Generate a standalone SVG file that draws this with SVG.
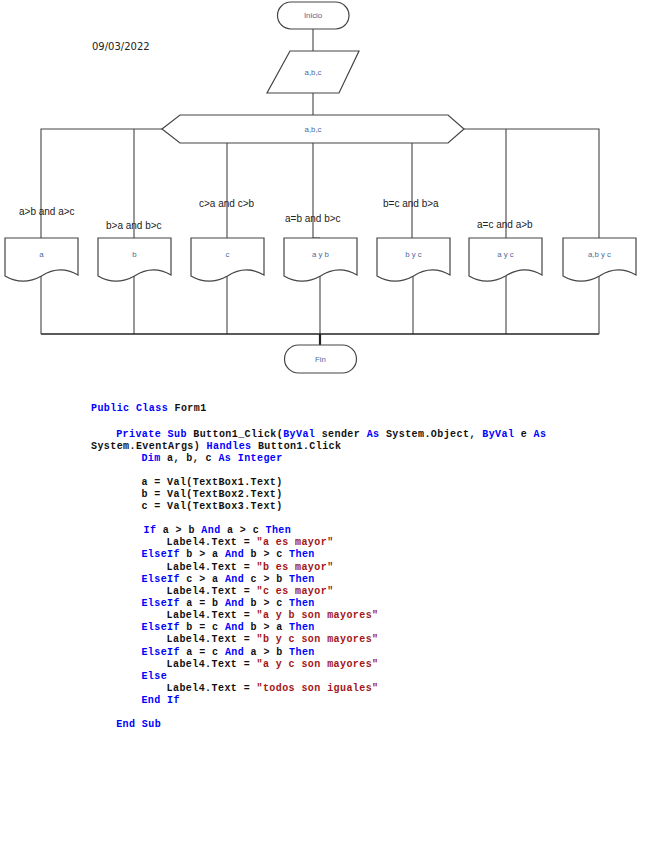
<svg xmlns="http://www.w3.org/2000/svg" width="655" height="848" viewBox="0 0 655 848">
<style>
.shape{fill:#fff;stroke:#444;stroke-width:1.2}
.conn{fill:none;stroke:#444;stroke-width:1.1}
.nl{font-family:"Liberation Sans",Arial,sans-serif;font-size:7.8px;fill:#4a6a9c;text-anchor:middle}
.cl{font-family:"Liberation Sans",Arial,sans-serif;font-size:10px;fill:#222}
.date{font-family:"DejaVu Sans",sans-serif;font-size:10px;fill:#222}
.code{font-family:"Liberation Mono","Courier New",monospace;font-size:10px;font-weight:bold;letter-spacing:0.42px;fill:#111}
.k{fill:#0000ff}
.s{fill:#a31515}
</style>
<rect width="655" height="848" fill="#fff"/>
<text class="date" x="92" y="49.5">09/03/2022</text>
<g id="connectors">
<path class="conn" d="M313,29 V51"/>
<path class="conn" d="M313,93 V115"/>
<path class="conn" d="M162,129 H41 V238"/>
<path class="conn" d="M134,129 V238"/>
<path class="conn" d="M227,143 V238"/>
<path class="conn" d="M313,143 V238 H320"/>
<path class="conn" d="M412,143 V238"/>
<path class="conn" d="M464,129 H599 V238"/>
<path class="conn" d="M506,129 V238"/>
<path class="conn" d="M41,276 V334"/>
<path class="conn" d="M134,276 V334"/>
<path class="conn" d="M227,276 V334"/>
<path class="conn" d="M320,276 V334"/>
<path class="conn" d="M413,276 V334"/>
<path class="conn" d="M506,276 V334"/>
<path class="conn" d="M599,276 V334"/>
<path class="conn" d="M41,334 H599" style="stroke:#222;stroke-width:1.5"/>
<path class="conn" d="M320,334 V345" style="stroke:#222;stroke-width:2.2"/>
</g>
<g id="inicio"><rect class="shape" x="277.5" y="2" width="71.5" height="27" rx="13.5"/><text class="nl" x="313" y="18">Inicio</text></g>
<g id="entrada"><polygon class="shape" points="290,51 359,51 339,93 267,93"/><text class="nl" x="313" y="75">a,b,c</text></g>
<g id="decision"><polygon class="shape" points="162,129 180,115 448,115 464,129 448,143 180,143"/><text class="nl" x="313" y="132">a,b,c</text></g>
<g id="lbl1"><text class="cl" x="19" y="214.5">a&gt;b and a&gt;c</text></g>
<g id="lbl2"><text class="cl" x="106" y="228.5">b&gt;a and b&gt;c</text></g>
<g id="lbl3"><text class="cl" x="199" y="207">c&gt;a and c&gt;b</text></g>
<g id="lbl4"><text class="cl" x="285" y="221.5">a=b and b&gt;c</text></g>
<g id="lbl5"><text class="cl" x="383" y="207">b=c and b&gt;a</text></g>
<g id="lbl6"><text class="cl" x="477" y="228">a=c and a&gt;b</text></g>
<g id="doc-a"><path class="shape" d="M5,238 H78 V275 C66,268 54,268 41.5,276 C29,283 17,283 5,276 Z"/><text class="nl" x="41.5" y="257">a</text></g>
<g id="doc-b"><path class="shape" d="M98,238 H171 V275 C159,268 147,268 134.5,276 C122,283 110,283 98,276 Z"/><text class="nl" x="134.5" y="257">b</text></g>
<g id="doc-c"><path class="shape" d="M191,238 H264 V275 C252,268 240,268 227.5,276 C215,283 203,283 191,276 Z"/><text class="nl" x="227.5" y="257">c</text></g>
<g id="doc-ayb"><path class="shape" d="M284,238 H357 V275 C345,268 333,268 320.5,276 C308,283 296,283 284,276 Z"/><text class="nl" x="320.5" y="257">a y b</text></g>
<g id="doc-byc"><path class="shape" d="M377,238 H450 V275 C438,268 426,268 413.5,276 C401,283 389,283 377,276 Z"/><text class="nl" x="413.5" y="257">b y c</text></g>
<g id="doc-ayc"><path class="shape" d="M469,238 H542 V275 C530,268 518,268 505.5,276 C493,283 481,283 469,276 Z"/><text class="nl" x="505.5" y="257">a y c</text></g>
<g id="doc-abyc"><path class="shape" d="M563,238 H636 V275 C624,268 612,268 599.5,276 C587,283 575,283 563,276 Z"/><text class="nl" x="599.5" y="257">a,b y c</text></g>
<g id="fin"><rect class="shape" x="284.5" y="345" width="72" height="28" rx="14"/><text class="nl" x="320.5" y="362">Fin</text></g>
<g id="code">
<text class="code" x="91" y="411"><tspan class="k">Public Class</tspan> Form1</text>
<text class="code" x="116.2" y="436.5"><tspan class="k">Private Sub</tspan> Button1_Click(<tspan class="k">ByVal</tspan> sender <tspan class="k">As</tspan> System.Object, <tspan class="k">ByVal</tspan> e <tspan class="k">As</tspan></text>
<text class="code" x="91" y="448.5">System.EventArgs) <tspan class="k">Handles</tspan> Button1.Click</text>
<text class="code" x="141.4" y="460.5"><tspan class="k">Dim</tspan> a, b, c <tspan class="k">As Integer</tspan></text>
<text class="code" x="141.4" y="485">a = Val(TextBox1.Text)</text>
<text class="code" x="141.4" y="497">b = Val(TextBox2.Text)</text>
<text class="code" x="141.4" y="509">c = Val(TextBox3.Text)</text>
<text class="code" x="143.5" y="533"><tspan class="k">If</tspan> a &gt; b <tspan class="k">And</tspan> a &gt; c <tspan class="k">Then</tspan></text>
<text class="code" x="166.6" y="545">Label4.Text = <tspan class="s">"a es mayor"</tspan></text>
<text class="code" x="141.4" y="557"><tspan class="k">ElseIf</tspan> b &gt; a <tspan class="k">And</tspan> b &gt; c <tspan class="k">Then</tspan></text>
<text class="code" x="166.6" y="569.5">Label4.Text = <tspan class="s">"b es mayor"</tspan></text>
<text class="code" x="141.4" y="581.7"><tspan class="k">ElseIf</tspan> c &gt; a <tspan class="k">And</tspan> c &gt; b <tspan class="k">Then</tspan></text>
<text class="code" x="166.6" y="594">Label4.Text = <tspan class="s">"c es mayor"</tspan></text>
<text class="code" x="141.4" y="606"><tspan class="k">ElseIf</tspan> a = b <tspan class="k">And</tspan> b &gt; c <tspan class="k">Then</tspan></text>
<text class="code" x="166.6" y="618">Label4.Text = <tspan class="s">"a y b son mayores"</tspan></text>
<text class="code" x="141.4" y="630"><tspan class="k">ElseIf</tspan> b = c <tspan class="k">And</tspan> b &gt; a <tspan class="k">Then</tspan></text>
<text class="code" x="166.6" y="642">Label4.Text = <tspan class="s">"b y c son mayores"</tspan></text>
<text class="code" x="141.4" y="654.5"><tspan class="k">ElseIf</tspan> a = c <tspan class="k">And</tspan> a &gt; b <tspan class="k">Then</tspan></text>
<text class="code" x="166.6" y="666.5">Label4.Text = <tspan class="s">"a y c son mayores"</tspan></text>
<text class="code" x="141.4" y="678.5"><tspan class="k">Else</tspan></text>
<text class="code" x="166.6" y="691">Label4.Text = <tspan class="s">"todos son iguales"</tspan></text>
<text class="code" x="141.4" y="703"><tspan class="k">End If</tspan></text>
<text class="code" x="116.2" y="727"><tspan class="k">End Sub</tspan></text>
</g>
</svg>
